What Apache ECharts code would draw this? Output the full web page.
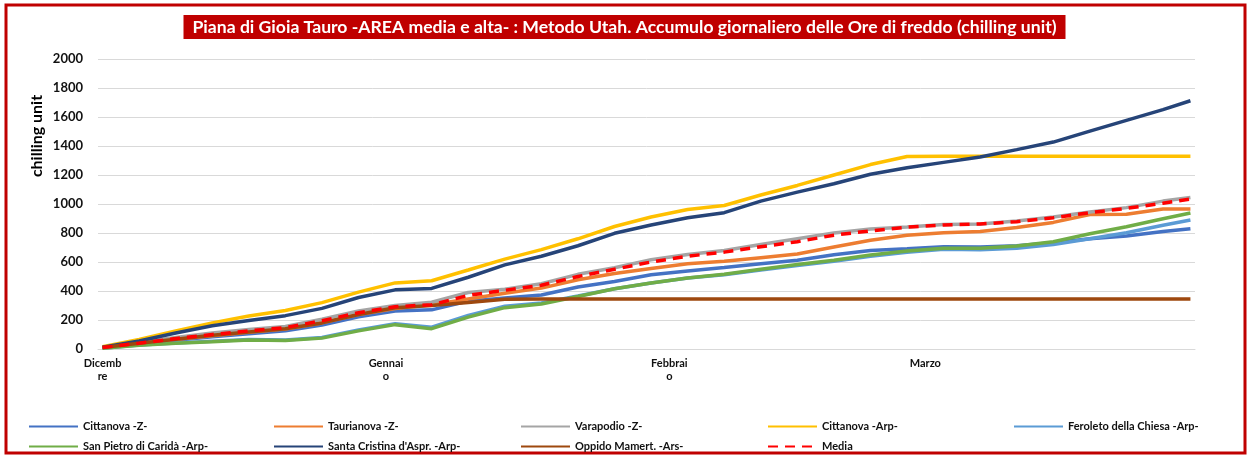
<!DOCTYPE html>
<html>
<head>
<meta charset="utf-8">
<script src="https://cdn.jsdelivr.net/npm/echarts@6/dist/echarts.min.js"></script>
<style>
html, body { margin: 0; padding: 0; background: #fff; }
#chart { width: 1249px; height: 457px; }
</style>
</head>
<body>
<div id="chart"></div>
<script>
// giorni dal 1 dicembre (0) al 30 marzo (119)
const days = [0, 4, 8, 12, 16, 20, 24, 28, 32, 36, 40, 44, 48, 52, 56, 60, 64, 68, 72, 76, 80, 84, 88, 92, 96, 100, 104, 108, 112, 116, 119]
const monthDays = [0, 31, 62, 90]
const monthLabels = ['Dicemb\nre', 'Gennai\no', 'Febbrai\no', 'Marzo']
const yTicks = [0, 200, 400, 600, 800, 1000, 1200, 1400, 1600, 1800, 2000]

const seriesNames = ['Cittanova -Z-', 'Taurianova -Z-', 'Varapodio -Z-', 'Cittanova -Arp-', 'Feroleto della Chiesa -Arp-',
  'San Pietro di Caridà -Arp-', "Santa Cristina d'Aspr. -Arp-", 'Oppido Mamert. -Ars-', 'Media']
const seriesColors = ['#4472C4', '#ED7D31', '#A5A5A5', '#FFC000', '#5B9BD5', '#70AD47', '#264478', '#9E480E', '#FF0000']

const cittanovaZ = [10, 35, 60, 85, 105, 125, 165, 222, 262, 270, 330, 352, 372, 428, 465, 512, 538, 562, 588, 612, 650, 680, 692, 706, 703, 712, 732, 760, 779, 810, 830]
const taurianovaZ = [10, 38, 65, 92, 115, 138, 180, 238, 280, 305, 345, 385, 420, 478, 520, 555, 588, 605, 630, 655, 704, 750, 784, 802, 810, 838, 873, 928, 930, 966, 966]
const varapodioZ = [12, 45, 80, 110, 135, 155, 205, 262, 300, 322, 390, 412, 450, 515, 560, 615, 652, 680, 720, 760, 800, 828, 842, 858, 862, 882, 910, 945, 975, 1020, 1045]
const cittanovaArp = [15, 65, 125, 180, 228, 266, 320, 392, 456, 471, 545, 620, 685, 760, 845, 910, 962, 990, 1062, 1128, 1200, 1272, 1328, 1330, 1330, 1330, 1330, 1330, 1330, 1330, 1330]
const feroleto = [5, 27, 42, 54, 66, 62, 80, 132, 175, 150, 232, 295, 318, 365, 415, 455, 490, 512, 545, 575, 605, 640, 668, 688, 684, 694, 720, 760, 802, 854, 890]
const sanPietro = [5, 25, 40, 50, 62, 58, 75, 125, 168, 140, 220, 285, 310, 362, 415, 455, 490, 515, 550, 582, 612, 648, 676, 694, 694, 710, 740, 795, 843, 898, 938]
const santaCristina = [12, 55, 110, 160, 197, 230, 280, 355, 408, 418, 495, 580, 640, 712, 798, 855, 905, 940, 1020, 1082, 1140, 1205, 1250, 1287, 1324, 1375, 1427, 1503, 1577, 1651, 1712]
const oppido = [10, 40, 68, 95, 118, 140, 180, 238, 285, 300, 320, 343, 345, 345, 345, 345, 345, 345, 345, 345, 345, 345, 345, 345, 345, 345, 345, 345, 345, 345, 345]
const media = [10, 40, 72, 100, 125, 148, 195, 250, 292, 305, 370, 405, 440, 500, 550, 600, 640, 668, 705, 740, 785, 815, 840, 855, 862, 878, 905, 940, 970, 1005, 1035]

const allSeries = [cittanovaZ, taurianovaZ, varapodioZ, cittanovaArp, feroleto, sanPietro, santaCristina, oppido, media]
const categories = Array.from({ length: 120 }, (_, i) => String(i))

const font = 'Lato, "Liberation Sans", sans-serif'
const legendCols = [28, 273, 520, 767, 1013]

const chart = echarts.init(document.getElementById('chart'))
chart.setOption({
  animation: false,
  backgroundColor: '#fff',
  title: {
    text: 'Piana di Gioia Tauro -AREA media e alta- : Metodo Utah. Accumulo giornaliero delle Ore di freddo (chilling unit)',
    left: 'center',
    top: 15,
    backgroundColor: '#C00000',
    padding: [3, 9],
    textStyle: { color: '#fff', fontSize: 17.6, lineHeight: 18, fontWeight: 'bold', fontFamily: font },
  },
  graphic: [
    {
      type: 'rect',
      shape: { x: 6, y: 5, width: 1239, height: 448 },
      style: { fill: 'none', stroke: '#C00000', lineWidth: 3 },
    },
    {
      type: 'text',
      x: 37,
      y: 136,
      rotation: Math.PI / 2,
      style: {
        text: 'chilling unit',
        fill: '#000',
        font: 'bold 16px ' + font,
        align: 'center',
        verticalAlign: 'middle',
      },
    },
  ],
  legend: seriesNames.map((name, i) => ({
    data: [name],
    left: legendCols[i % 5],
    top: i < 5 ? 421 : 441,
    padding: 0,
    itemWidth: 49,
    itemHeight: 4,
    itemStyle: { opacity: 0 },
    selectedMode: false,
    textStyle: { color: '#111', fontSize: 11, fontWeight: 'bold', fontFamily: font },
  })),
  grid: { left: 98, top: 59, right: 54, bottom: 108 },
  xAxis: {
    type: 'category',
    data: categories,
    boundaryGap: true,
    axisLine: { lineStyle: { color: '#D9D9D9', width: 1 } },
    axisTick: { show: false },
    axisLabel: {
      interval: (index) => monthDays.includes(index),
      formatter: (v) => monthLabels[monthDays.indexOf(Number(v))] || '',
      color: '#111',
      fontSize: 11,
      fontWeight: 'bold',
      fontFamily: font,
      lineHeight: 13,
      margin: 8,
    },
  },
  yAxis: {
    type: 'value',
    min: yTicks[0],
    max: yTicks[yTicks.length - 1],
    interval: yTicks[1] - yTicks[0],
    axisLine: { show: false },
    axisTick: { show: false },
    axisLabel: {
      formatter: (v) => String(v),
      color: '#111',
      fontSize: 13,
      fontWeight: 'bold',
      fontFamily: font,
      margin: 15,
    },
    splitLine: { lineStyle: { color: '#D9D9D9', width: 1 } },
  },
  series: allSeries.map((vals, i) => ({
    name: seriesNames[i],
    type: 'line',
    symbol: 'none',
    data: days.map((d, j) => [d, vals[j]]),
    lineStyle: { color: seriesColors[i], width: 3.5, type: i === 8 ? [10, 7] : 'solid' },
    itemStyle: { color: seriesColors[i] },
    emphasis: { disabled: true },
  })),
})
</script>
</body>
</html>
